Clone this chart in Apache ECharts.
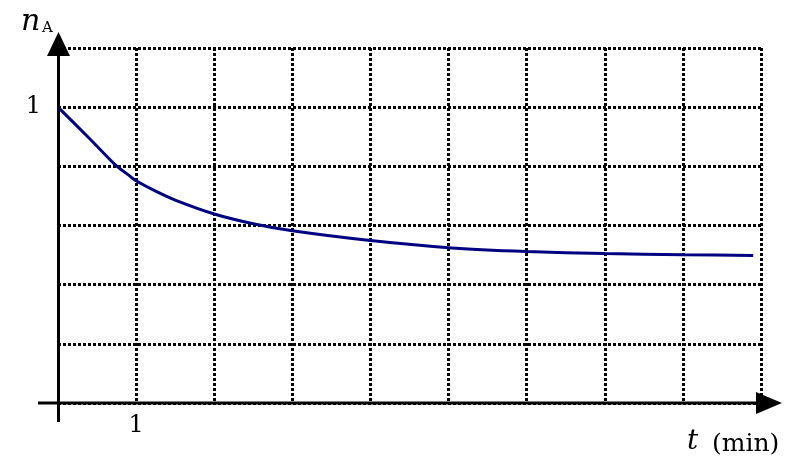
<!DOCTYPE html>
<html><head><meta charset="utf-8">
<script src="https://cdn.jsdelivr.net/npm/echarts@6/dist/echarts.min.js"></script>
<style>html,body{margin:0;padding:0;background:#fff}#c{width:792px;height:460px}</style>
</head><body><div id="c"></div>
<script>
const tValues = [0, 0.4, 0.73, 0.9, 1, 1.25, 1.5, 2, 2.5, 3, 4, 5, 6, 7, 8, 8.9];
const nValues = [1, 0.895, 0.806, 0.771, 0.751, 0.716, 0.686, 0.639, 0.606, 0.582, 0.549, 0.525, 0.512, 0.505, 0.501, 0.499];
const xTickLabels = {1: '1'};
const yTickLabels = {1: '1'};

const chart = echarts.init(document.getElementById('c'));
const serif = 'DejaVu Serif';
const dotted = {color: '#000', width: 3, type: [3, 2]};
chart.setOption({
  animation: false,
  grid: {left: 58, right: 31, top: 48, bottom: 57},
  xAxis: {
    type: 'value', min: 0, max: 9, interval: 1,
    axisLine: {show: false}, axisTick: {show: false},
    splitLine: {show: true, lineStyle: dotted},
    axisLabel: {margin: 11, color: '#000', fontFamily: serif, fontSize: 24,
      formatter: v => xTickLabels[v] || ''}
  },
  yAxis: {
    type: 'value', min: 0, max: 1.2, interval: 0.2,
    axisLine: {show: false}, axisTick: {show: false},
    splitLine: {show: true, lineStyle: dotted},
    axisLabel: {margin: 17, padding: [6, 0, 0, 0], color: '#000', fontFamily: serif, fontSize: 24,
      formatter: v => yTickLabels[Math.round(v * 10) / 10] || ''}
  },
  series: [{
    type: 'line', smooth: 0.25, symbol: 'none',
    data: tValues.map((t, i) => [t, nValues[i]]),
    lineStyle: {color: '#000080', width: 3}, z: 5
  }],
  graphic: [
    {type: 'line', shape: {x1: 38, y1: 403, x2: 762, y2: 403}, style: {stroke: '#000', lineWidth: 3}, z: 10},
    {type: 'polygon', shape: {points: [[756, 392], [782, 403], [756, 414]]}, style: {fill: '#000'}, z: 10},
    {type: 'line', shape: {x1: 58.5, y1: 422, x2: 58.5, y2: 50}, style: {stroke: '#000', lineWidth: 3}, z: 10},
    {type: 'polygon', shape: {points: [[47, 56], [58.5, 32], [70, 56]]}, style: {fill: '#000'}, z: 10},
    {type: 'text', z: 10, style: {x: 21, y: 22.5, verticalAlign: 'middle', text: 'n',
      fontFamily: serif, fontStyle: 'italic', fontSize: 30, fill: '#000'}},
    {type: 'text', z: 10, style: {x: 42, y: 28.5, verticalAlign: 'middle', text: 'A',
      fontFamily: serif, fontSize: 15, fill: '#000'}},
    {type: 'text', z: 10, style: {x: 687, y: 442, verticalAlign: 'middle', text: 't',
      fontFamily: serif, fontStyle: 'italic', fontSize: 28, fill: '#000'}},
    {type: 'text', z: 10, style: {x: 712, y: 444, verticalAlign: 'middle', text: '(min)',
      fontFamily: serif, fontSize: 25, fill: '#000'}}
  ]
});
</script></body></html>
